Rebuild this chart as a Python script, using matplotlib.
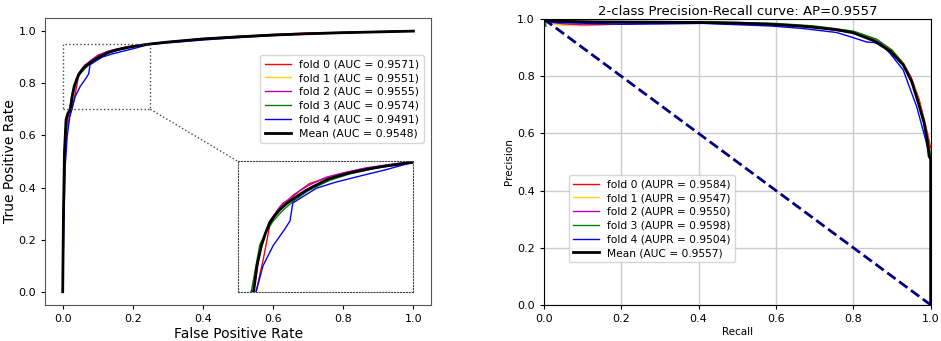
import matplotlib
matplotlib.use('Agg')
import matplotlib.pyplot as plt
from matplotlib.patches import Rectangle

# ---------- ROC data ----------
roc_labels = ['fold 0 (AUC = 0.9571)', 'fold 1 (AUC = 0.9551)', 'fold 2 (AUC = 0.9555)',
              'fold 3 (AUC = 0.9574)', 'fold 4 (AUC = 0.9491)']
roc_mean_label = 'Mean (AUC = 0.9548)'
fold_colors = ['red', 'gold', 'm', 'g', 'b']

fpr_f0 = [0, 0.002, 0.006, 0.012, 0.02, 0.026, 0.036, 0.045, 0.055, 0.064, 0.074, 0.088, 0.102,
          0.118, 0.131, 0.155, 0.178, 0.21, 0.245, 0.3, 0.4, 0.5, 0.6, 0.7, 0.8, 0.9, 1.0]
tpr_f0 = [0, 0.3, 0.52, 0.63, 0.68, 0.70, 0.762, 0.826, 0.855, 0.871, 0.878, 0.895, 0.909,
          0.916, 0.922, 0.93, 0.938, 0.944, 0.951, 0.959, 0.971, 0.98, 0.987, 0.993, 0.995, 0.998, 1.0]
fpr_f1 = [0, 0.002, 0.005, 0.01, 0.016, 0.021, 0.033, 0.045, 0.06, 0.083, 0.107, 0.131, 0.154,
          0.188, 0.226, 0.25, 0.3, 0.4, 0.5, 0.6, 0.7, 0.8, 0.9, 1.0]
tpr_f1 = [0, 0.29, 0.5, 0.62, 0.68, 0.70, 0.79, 0.834, 0.86, 0.885, 0.904, 0.92, 0.929,
          0.939, 0.947, 0.951, 0.958, 0.97, 0.978, 0.985, 0.99, 0.994, 0.997, 1.0]
fpr_f2 = [0, 0.002, 0.005, 0.01, 0.016, 0.022, 0.033, 0.045, 0.06, 0.08, 0.1, 0.125, 0.15,
          0.185, 0.225, 0.25, 0.3, 0.4, 0.5, 0.6, 0.7, 0.8, 0.9, 1.0]
tpr_f2 = [0, 0.3, 0.51, 0.62, 0.68, 0.70, 0.79, 0.836, 0.864, 0.888, 0.905, 0.921, 0.93,
          0.94, 0.948, 0.951, 0.958, 0.97, 0.978, 0.985, 0.99, 0.994, 0.997, 1.0]
fpr_f3 = [0, 0.002, 0.004, 0.008, 0.013, 0.019, 0.025, 0.031, 0.04, 0.05, 0.064, 0.08, 0.1,
          0.13, 0.16, 0.2, 0.25, 0.3, 0.4, 0.5, 0.6, 0.7, 0.8, 0.9, 1.0]
tpr_f3 = [0, 0.31, 0.52, 0.63, 0.68, 0.70, 0.745, 0.79, 0.815, 0.836, 0.857, 0.876, 0.895,
          0.915, 0.928, 0.94, 0.95, 0.958, 0.97, 0.979, 0.986, 0.991, 0.995, 0.998, 1.0]
fpr_f4 = [0, 0.003, 0.007, 0.013, 0.02, 0.0276, 0.0356, 0.05, 0.0665, 0.074, 0.078, 0.093, 0.112,
          0.14, 0.178, 0.211, 0.24, 0.25, 0.3, 0.4, 0.5, 0.6, 0.7, 0.8, 0.9, 1.0]
tpr_f4 = [0, 0.25, 0.48, 0.6, 0.67, 0.708, 0.749, 0.788, 0.82, 0.836, 0.871, 0.884, 0.9,
          0.912, 0.925, 0.936, 0.947, 0.949, 0.955, 0.966, 0.975, 0.983, 0.989, 0.993, 0.997, 1.0]
fpr_mean = [0, 0.002, 0.005, 0.0095, 0.015, 0.0223, 0.027, 0.0333, 0.039, 0.045, 0.052, 0.0594,
            0.07, 0.083, 0.095, 0.107, 0.12, 0.131, 0.154, 0.17, 0.188, 0.21, 0.226, 0.245,
            0.3, 0.4, 0.5, 0.6, 0.7, 0.8, 0.9, 1.0]
tpr_mean = [0, 0.28, 0.535, 0.66, 0.685, 0.70, 0.75, 0.788, 0.812, 0.832, 0.846, 0.858,
            0.871, 0.883, 0.894, 0.903, 0.912, 0.919, 0.928, 0.933, 0.938, 0.943, 0.946, 0.95,
            0.958, 0.97, 0.978, 0.985, 0.99, 0.994, 0.997, 1.0]

roc_fpr = [fpr_f0, fpr_f1, fpr_f2, fpr_f3, fpr_f4]
roc_tpr = [tpr_f0, tpr_f1, tpr_f2, tpr_f3, tpr_f4]

# ---------- PR data ----------
pr_labels = ['fold 0 (AUPR = 0.9584)', 'fold 1 (AUPR = 0.9547)', 'fold 2 (AUPR = 0.9550)',
             'fold 3 (AUPR = 0.9598)', 'fold 4 (AUPR = 0.9504)']
pr_mean_label = 'Mean (AUC = 0.9557)'
pr_title = '2-class Precision-Recall curve: AP=0.9557'

rec_f0 = [0, 0.01, 0.05, 0.15, 0.3, 0.45, 0.6, 0.7, 0.8, 0.85, 0.9, 0.93, 0.95, 0.97, 0.985, 0.995, 1.0]
pre_f0 = [1.0, 0.995, 0.993, 0.99, 0.989, 0.988, 0.981, 0.972, 0.952, 0.932, 0.89, 0.845, 0.795,
          0.72, 0.64, 0.58, 0.55]
rec_f1 = [0, 0.01, 0.05, 0.1, 0.15, 0.25, 0.4, 0.6, 0.7, 0.8, 0.86, 0.9, 0.93, 0.96, 0.98, 0.995, 1.0]
pre_f1 = [1.0, 0.985, 0.978, 0.977, 0.979, 0.985, 0.987, 0.981, 0.972, 0.953, 0.927, 0.892, 0.845,
          0.755, 0.66, 0.57, 0.52]
rec_f2 = [0, 0.01, 0.05, 0.1, 0.15, 0.25, 0.4, 0.6, 0.7, 0.8, 0.86, 0.9, 0.93, 0.96, 0.98, 0.995, 1.0]
pre_f2 = [1.0, 0.99, 0.983, 0.98, 0.981, 0.985, 0.987, 0.98, 0.971, 0.952, 0.925, 0.89, 0.842,
          0.75, 0.655, 0.565, 0.51]
rec_f3 = [0.005, 0.005, 0.01, 0.05, 0.15, 0.3, 0.45, 0.6, 0.7, 0.8, 0.86, 0.9, 0.93, 0.96, 0.98, 0.995, 1.0]
pre_f3 = [0.975, 0.995, 0.993, 0.99, 0.991, 0.991, 0.99, 0.985, 0.976, 0.958, 0.93, 0.892, 0.843,
          0.75, 0.655, 0.565, 0.52]
rec_f4 = [0, 0.01, 0.05, 0.15, 0.2, 0.3, 0.41, 0.585, 0.67, 0.757, 0.8, 0.834, 0.869, 0.895, 0.929,
          0.964, 0.985, 0.996, 1.0]
pre_f4 = [1.0, 0.99, 0.987, 0.984, 0.982, 0.983, 0.985, 0.976, 0.967, 0.953, 0.935, 0.92, 0.916,
          0.88, 0.822, 0.693, 0.588, 0.53, 0.51]
rec_mean = [0, 0.01, 0.05, 0.15, 0.3, 0.41, 0.5, 0.585, 0.67, 0.757, 0.8, 0.852, 0.895, 0.929,
            0.951, 0.968, 0.983, 0.991, 0.996, 1.0, 1.0]
pre_mean = [1.0, 0.995, 0.992, 0.99, 0.989, 0.988, 0.986, 0.982, 0.975, 0.963, 0.952, 0.925, 0.888,
            0.84, 0.782, 0.708, 0.637, 0.578, 0.52, 0.51, 0.0]

pr_rec = [rec_f0, rec_f1, rec_f2, rec_f3, rec_f4]
pr_pre = [pre_f0, pre_f1, pre_f2, pre_f3, pre_f4]

# zoom region for the ROC inset
zoom_x = (0.0, 0.25)
zoom_y = (0.7, 0.95)

fig = plt.figure(figsize=(9.41, 3.41), dpi=100)
ax1 = fig.add_axes([0.048, 0.106, 0.41, 0.841])
ax2 = fig.add_axes([0.578, 0.106, 0.411, 0.838])

# --- ROC panel ---
for i in range(5):
    ax1.plot(roc_fpr[i], roc_tpr[i], color=fold_colors[i], lw=1, label=roc_labels[i])
ax1.plot(fpr_mean, tpr_mean, color='k', lw=2, label=roc_mean_label)
ax1.set_xlabel('False Positive Rate', fontsize=10, labelpad=2)
ax1.set_ylabel('True Positive Rate', fontsize=10)
ax1.yaxis.set_label_coords(-0.072, 0.5)
ax1.tick_params(labelsize=8, length=3)
ax1.legend(loc='upper right', bbox_to_anchor=(0.995, 0.89), fontsize=7.8,
           handlelength=2.4, borderpad=0.4, labelspacing=0.35)
for s in ax1.spines.values():
    s.set_color('#555555')

axins = ax1.inset_axes([0.5, 0.0, 0.5, 0.5], transform=ax1.transData)
for i in range(5):
    axins.plot(roc_fpr[i], roc_tpr[i], color=fold_colors[i], lw=1)
axins.plot(fpr_mean, tpr_mean, color='k', lw=2)
axins.set_xlim(*zoom_x)
axins.set_ylim(zoom_y[0] - 0.002, zoom_y[1] + 0.002)
axins.set_xticks([])
axins.set_yticks([])
for s in axins.spines.values():
    s.set_linestyle(':')
    s.set_color('#444444')

ax1.add_patch(Rectangle((zoom_x[0], zoom_y[0]), zoom_x[1] - zoom_x[0], zoom_y[1] - zoom_y[0],
                        fill=False, ls=':', lw=1, ec='#444444', zorder=5))
ax1.plot([zoom_x[1], 0.5], [zoom_y[0], 0.5], ls=':', lw=1, color='#444444')

# --- PR panel ---
for i in range(5):
    ax2.plot(pr_rec[i], pr_pre[i], color=fold_colors[i], lw=1, label=pr_labels[i])
ax2.plot(rec_mean, pre_mean, color='k', lw=2, label=pr_mean_label)
ax2.plot([0, 1], [1, 0], color='navy', lw=2, ls='--')
ax2.set_xlim(0, 1)
ax2.set_ylim(0, 1)
ax2.grid(True, color='#cccccc', lw=1)
ax2.set_axisbelow(True)
ax2.set_title(pr_title, fontsize=9.5, pad=3)
ax2.set_xlabel('Recall', fontsize=7.5, labelpad=2)
ax2.set_ylabel('Precision', fontsize=7.5, labelpad=2)
ax2.tick_params(labelsize=8, length=3)
ax2.legend(loc='lower left', bbox_to_anchor=(0.05, 0.13), fontsize=7.7,
           handlelength=2.4, borderpad=0.4, labelspacing=0.35)

plt.savefig('out.png', dpi=100)
